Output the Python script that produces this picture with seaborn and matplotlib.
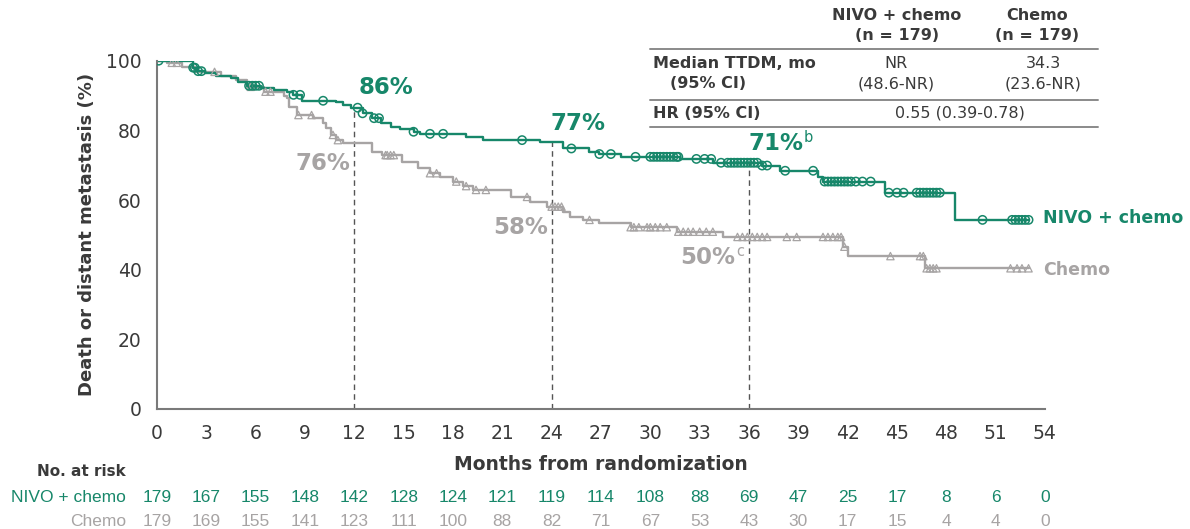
import numpy as np
import pandas as pd
import matplotlib
matplotlib.use("Agg")
import matplotlib.pyplot as plt
from matplotlib.lines import Line2D
from matplotlib import font_manager
import seaborn as sns

# ---------------- data ----------------
nivo_t = [0, 2.2, 2.4, 2.9, 3.6, 4.5, 4.9, 5.5, 6.3, 7.1, 7.9, 8.3, 8.8, 10.9, 11.3, 11.8,
          12.5, 13.1, 13.6, 14.2, 14.8, 15.6, 16.0, 18.8, 19.8, 23.3, 24.7, 26.3, 26.9,
          28.2, 31.8, 33.8, 36.8, 37.9, 40.2, 40.5, 44.3, 48.5]
nivo_s = [100, 98.0, 97.0, 96.4, 95.7, 95.1, 94.0, 92.8, 92.1, 91.7, 91.0, 90.2, 88.5, 88.0,
          87.3, 86.5, 84.9, 83.5, 82.0, 81.1, 80.4, 79.6, 79.0, 78.2, 77.2, 76.6, 74.8, 73.9,
          73.2, 72.4, 71.8, 70.7, 69.9, 68.4, 66.7, 65.3, 62.1, 54.3]
nivo_cens = [0.1, 2.2, 2.3, 2.5, 2.7, 5.6, 5.8, 6.0, 6.2, 8.3, 8.7, 10.1, 12.2, 12.5, 13.2,
             13.5, 15.6, 16.6, 17.4, 22.2, 25.2, 26.9, 27.6, 29.1, 30.0, 30.2, 30.4, 30.6,
             30.8, 31.0, 31.2, 31.4, 31.6, 31.7, 32.8, 33.3, 33.7, 34.3, 34.7, 34.9, 35.1,
             35.3, 35.5, 35.7, 35.9, 36.1, 36.3, 36.5, 36.8, 37.1, 38.2, 39.9, 40.6, 40.8,
             41.0, 41.2, 41.4, 41.6, 41.8, 42.0, 42.2, 42.5, 42.9, 43.4, 44.5, 45.0, 45.4,
             46.2, 46.4, 46.6, 46.8, 47.0, 47.2, 47.4, 47.6, 50.2, 52.0, 52.2, 52.4, 52.6,
             52.8, 53.0]

chemo_t = [0, 0.6, 1.5, 2.3, 3.9, 4.8, 5.5, 6.5, 7.7, 7.9, 8.0, 8.5, 9.5, 10.1, 10.3, 10.6,
           10.9, 11.3, 13.1, 13.7, 14.9, 15.9, 16.6, 17.2, 18.0, 18.6, 19.2, 21.5, 22.7,
           23.7, 24.7, 25.1, 25.9, 26.9, 28.8, 31.6, 34.4, 41.7, 42.0, 46.7]
chemo_s = [100, 99.4, 98.3, 96.8, 95.5, 94.4, 92.5, 91.1, 90.0, 89.2, 86.8, 84.4, 83.5, 82.0,
           80.6, 78.7, 77.2, 76.3, 73.9, 72.9, 71.0, 69.1, 67.7, 66.7, 65.3, 64.0, 62.9, 60.9,
           59.5, 58.1, 56.7, 55.2, 54.3, 53.3, 52.2, 50.9, 49.4, 46.6, 43.9, 40.4]
chemo_cens = [0.9, 1.2, 3.5, 5.7, 6.6, 6.9, 8.6, 9.4, 10.7, 11.0, 13.9, 14.0, 14.2, 14.4,
              16.6, 17.0, 18.2, 18.8, 19.4, 20.0, 22.5, 24.0, 24.2, 24.4, 24.6, 26.3, 28.8,
              29.0, 29.3, 29.8, 30.0, 30.3, 30.6, 31.0, 31.7, 32.0, 32.3, 32.6, 33.0, 33.4,
              33.8, 35.3, 35.6, 35.9, 36.2, 36.5, 36.8, 37.1, 38.3, 38.9, 40.5, 40.8, 41.1,
              41.4, 41.6, 41.8, 44.6, 46.4, 46.6, 46.8, 47.0, 47.2, 47.4, 51.9, 52.3, 52.6, 53.0]
end_time = 53.0

months = list(range(0, 55, 3))
nivo_risk = [179, 167, 155, 148, 142, 128, 124, 121, 119, 114, 108, 88, 69, 47, 25, 17, 8, 6, 0]
chemo_risk = [179, 169, 155, 141, 123, 111, 100, 88, 82, 71, 67, 53, 43, 30, 17, 15, 4, 4, 0]

landmarks = [12, 24, 36]
nivo_labels = ["86%", "77%", "71%"]
chemo_labels = ["76%", "58%", "50%"]
arm_names = ["NIVO + chemo", "Chemo"]

# ---------------- style ----------------
GREEN = "#17876A"
GREY = "#A7A4A4"
DARK = "#3A3A3A"
AXC = "#7A7A7A"
W, H = 1190, 529

sns.set_style("white")
plt.rcParams["font.family"] = ["DejaVu Sans"]
names = {f.name for f in font_manager.fontManager.ttflist}
NARROW = "Liberation Sans Narrow" if "Liberation Sans Narrow" in names else "Liberation Sans"

fig = plt.figure(figsize=(W / 100, H / 100), dpi=100)
ax = fig.add_axes([157 / W, 1 - 409 / H, 888 / W, (409 - 60.7) / H])


def px(x, y):
    return x / W, 1 - y / H


def step_value(ts, ss, q):
    idx = np.searchsorted(np.asarray(ts), np.asarray(q), side="right") - 1
    return np.asarray(ss)[idx]


# step curves
rows = []
for arm, ts, ss in [("Chemo", chemo_t, chemo_s), ("NIVO + chemo", nivo_t, nivo_s)]:
    for t, s in zip(list(ts) + [end_time], list(ss) + [ss[-1]]):
        rows.append({"arm": arm, "t": t, "s": s})
curves = pd.DataFrame(rows)
sns.lineplot(data=curves, x="t", y="s", hue="arm",
             palette={"NIVO + chemo": GREEN, "Chemo": GREY},
             drawstyle="steps-post", estimator=None, sort=False, legend=False,
             linewidth=1.7, ax=ax)

# censor marks
sns.scatterplot(x=chemo_cens, y=step_value(chemo_t, chemo_s, chemo_cens), marker="^",
                s=28, facecolors="none", edgecolors=GREY, linewidths=0.9, ax=ax, zorder=3)
sns.scatterplot(x=nivo_cens, y=step_value(nivo_t, nivo_s, nivo_cens), marker="o",
                s=36, facecolors="none", edgecolors=GREEN, linewidths=1.1, ax=ax, zorder=4)

# landmark dashed lines
ax.vlines(landmarks, 0, step_value(nivo_t, nivo_s, landmarks), colors="#555555",
          linestyles=(0, (4, 3)), linewidth=1.0, zorder=1)

ax.set_xlim(0, 54)
ax.set_ylim(0, 100)
ax.set_xticks(months)
ax.set_yticks(range(0, 101, 20))
ax.tick_params(axis="both", direction="out", length=7, width=1.3, color=AXC,
               labelsize=13.5, labelcolor=DARK, pad=4)
for side in ["top", "right"]:
    ax.spines[side].set_visible(False)
for side in ["left", "bottom"]:
    ax.spines[side].set_color(AXC)
    ax.spines[side].set_linewidth(1.5)
ax.set_xlabel("")
ax.set_ylabel("")

fig.text(*px(87, 234), "Death or distant metastasis (%)", rotation=90, ha="center",
         va="center", fontsize=13, fontweight="bold", color=DARK)
fig.text(*px(601, 465), "Months from randomization", ha="center", va="center",
         fontsize=13.5, fontweight="bold", color=DARK)

# landmark annotations
ann_nivo_pos = [(386, 87), (578, 123), (776, 144)]
ann_chemo_pos = [(323, 163), (521, 228), (708, 258)]
for lbl, (x, y) in zip(nivo_labels, ann_nivo_pos):
    fig.text(*px(x, y), lbl, ha="center", va="center", fontsize=16.5, fontweight="bold", color=GREEN)
for lbl, (x, y) in zip(chemo_labels, ann_chemo_pos):
    fig.text(*px(x, y), lbl, ha="center", va="center", fontsize=16.5, fontweight="bold", color=GREY)
fig.text(*px(804, 137), "b", ha="left", va="center", fontsize=10.5, color=GREEN)
fig.text(*px(736, 251), "c", ha="left", va="center", fontsize=10.5, color=GREY)

# end-of-curve labels
fig.text(*px(1043, 218), arm_names[0], ha="left", va="center", fontsize=12.5,
         fontweight="bold", color=GREEN)
fig.text(*px(1043, 270), arm_names[1], ha="left", va="center", fontsize=12.5,
         fontweight="bold", color=GREY)

# summary table
for yl in [49, 100, 127]:
    fig.add_artist(Line2D([650 / W, 1098 / W], [1 - yl / H, 1 - yl / H], color="#8A8A8A",
                          linewidth=1.4))
fig.text(*px(897, 16), "NIVO + chemo", ha="center", va="center", fontsize=11.5,
         fontweight="bold", color=DARK)
fig.text(*px(897, 35), "(n = 179)", ha="center", va="center", fontsize=11.5,
         fontweight="bold", color=DARK)
fig.text(*px(1037, 16), "Chemo", ha="center", va="center", fontsize=11.5,
         fontweight="bold", color=DARK)
fig.text(*px(1037, 35), "(n = 179)", ha="center", va="center", fontsize=11.5,
         fontweight="bold", color=DARK)
fig.text(*px(653, 64), "Median TTDM, mo", ha="left", va="center", fontsize=11.5,
         fontweight="bold", color=DARK)
fig.text(*px(708, 84), "(95% CI)", ha="center", va="center", fontsize=11.5,
         fontweight="bold", color=DARK)
fig.text(*px(896, 64), "NR", ha="center", va="center", fontsize=11.5, color=DARK)
fig.text(*px(896, 84), "(48.6-NR)", ha="center", va="center", fontsize=11.5, color=DARK)
fig.text(*px(1043, 64), "34.3", ha="center", va="center", fontsize=11.5, color=DARK)
fig.text(*px(1043, 84), "(23.6-NR)", ha="center", va="center", fontsize=11.5, color=DARK)
fig.text(*px(653, 113), "HR (95% CI)", ha="left", va="center", fontsize=11.5,
         fontweight="bold", color=DARK)
fig.text(*px(960, 113), "0.55 (0.39-0.78)", ha="center", va="center", fontsize=11.5,
         color=DARK)

# number at risk table
fig.text(*px(126, 471), "No. at risk", ha="right", va="center", fontsize=11,
         fontweight="bold", color=DARK)
fig.text(*px(126, 498), arm_names[0], ha="right", va="center", fontsize=12.5,
         family=NARROW, color=GREEN)
fig.text(*px(126, 521), arm_names[1], ha="right", va="center", fontsize=12.5,
         family=NARROW, color=GREY)
xpix = lambda m: 157 + m * 888 / 54
for m, a, b in zip(months, nivo_risk, chemo_risk):
    fig.text(*px(xpix(m), 498), str(a), ha="center", va="center", fontsize=12.5,
             family=NARROW, color=GREEN)
    fig.text(*px(xpix(m), 521), str(b), ha="center", va="center", fontsize=12.5,
             family=NARROW, color=GREY)

fig.savefig("out.png", dpi=100)
